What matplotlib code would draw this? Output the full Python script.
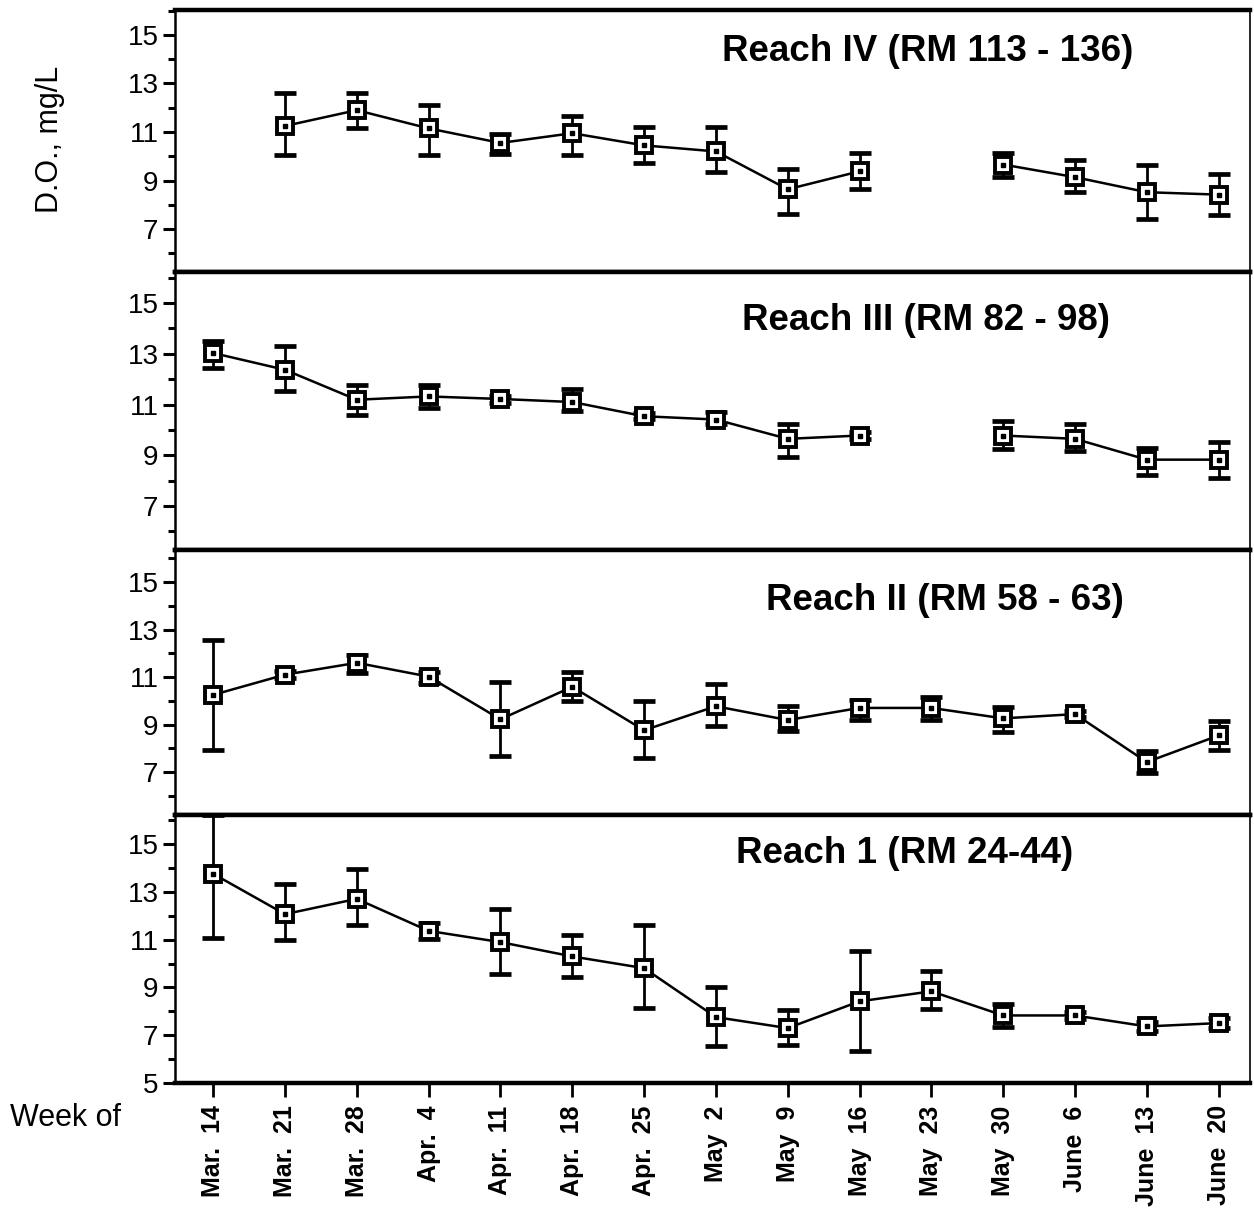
import numpy as np
import matplotlib
matplotlib.use("Agg")
import matplotlib.pyplot as plt
from matplotlib.ticker import FixedLocator

plt.rcParams['font.family'] = ['Liberation Sans', 'DejaVu Sans']

weeks = ['Mar.  14', 'Mar.  21', 'Mar.  28', 'Apr.  4', 'Apr.  11', 'Apr.  18',
         'Apr.  25', 'May  2', 'May  9', 'May  16', 'May  23', 'May  30',
         'June  6', 'June  13', 'June  20']
nan = np.nan

# Reach IV (RM 113 - 136)
r4_mean = [nan, 11.25, 11.9, 11.15, 10.55, 10.95, 10.45, 10.2, 8.64, 9.38, nan, 9.66, 9.14, 8.52, 8.42]
r4_lo   = [nan, 10.05, 11.15, 10.05, 10.1, 10.05, 9.74, 9.35, 7.63, 8.64, nan, 9.14, 8.52, 7.43, 7.56]
r4_hi   = [nan, 12.62, 12.62, 12.12, 10.9, 11.65, 11.2, 11.2, 9.49, 10.12, nan, 10.12, 9.84, 9.64, 9.28]

# Reach III (RM 82 - 98)
r3_mean = [13.03, 12.37, 11.19, 11.32, 11.22, 11.1, 10.54, 10.41, 9.65, 9.78, nan, 9.78, 9.65, 8.83, 8.83]
r3_lo   = [12.44, 11.52, 10.6, 10.87, 11.08, 10.73, 10.42, 10.25, 8.92, 9.66, nan, 9.25, 9.16, 8.24, 8.11]
r3_hi   = [13.49, 13.29, 11.78, 11.78, 11.35, 11.61, 10.66, 10.72, 10.25, 9.9, nan, 10.34, 10.24, 9.29, 9.53]

# Reach II (RM 58 - 63)
r2_mean = [10.25, 11.1, 11.6, 11.02, 9.22, 10.59, 8.76, 9.77, 9.19, 9.7, 9.7, 9.26, 9.44, 7.42, 8.54]
r2_lo   = [7.92, 10.95, 11.18, 10.75, 7.66, 9.99, 7.58, 8.92, 8.72, 9.19, 9.19, 8.68, 9.3, 6.95, 7.94]
r2_hi   = [12.58, 11.25, 11.95, 11.2, 10.8, 11.2, 10.0, 10.72, 9.8, 10.05, 10.15, 9.74, 9.58, 7.9, 9.15]

# Reach 1 (RM 24-44)
r1_mean = [13.76, 12.07, 12.71, 11.37, 10.9, 10.3, 9.81, 7.76, 7.3, 8.42, 8.84, 7.83, 7.83, 7.37, 7.51]
r1_lo   = [11.07, 10.97, 11.6, 11.05, 9.56, 9.44, 8.14, 6.56, 6.58, 6.33, 8.1, 7.34, 7.7, 7.17, 7.3]
r1_hi   = [16.2, 13.33, 13.95, 11.72, 12.29, 11.18, 11.6, 9.0, 8.07, 10.51, 9.67, 8.31, 7.96, 7.57, 7.72]

panels = [
    ('Reach IV (RM 113 - 136)', r4_mean, r4_lo, r4_hi),
    ('Reach III (RM 82 - 98)', r3_mean, r3_lo, r3_hi),
    ('Reach II (RM 58 - 63)', r2_mean, r2_lo, r2_hi),
    ('Reach 1 (RM 24-44)', r1_mean, r1_lo, r1_hi),
]

# panel layout (figure fractions) and per-panel y range, title spot
rects = [(0.1396, 0.7761, 0.8574, 0.2157),
         (0.1396, 0.5473, 0.8574, 0.2288),
         (0.1396, 0.3292, 0.8574, 0.2181),
         (0.1396, 0.1086, 0.8574, 0.2206)]
ylims = [(5.23, 16.03), (5.27, 16.22), (5.19, 16.35), (5.0, 16.22)]
title_pos = [(0.70, 0.84), (0.698, 0.827), (0.716, 0.81), (0.679, 0.858)]

fig = plt.figure(figsize=(12.54, 12.15), dpi=100)
x = np.arange(len(weeks))

for i, (title, mean, lo, hi) in enumerate(panels):
    ax = fig.add_axes(rects[i])
    mean = np.array(mean)
    yerr = [mean - np.array(lo), np.array(hi) - mean]
    ax.errorbar(x, mean, yerr=yerr, fmt='none', ecolor='black',
                elinewidth=2, capsize=8, capthick=3.4, zorder=2)
    ax.plot(x, mean, color='black', lw=1.8, marker='s', ms=12,
            mfc='white', mec='black', mew=2.8, zorder=3)
    ax.plot(x, mean, ls='none', marker='s', ms=2.5, color='black', zorder=4)

    ax.set_xlim(-0.53, 14.44)
    ax.set_ylim(*ylims[i])
    majors = [5, 7, 9, 11, 13, 15] if i == 3 else [7, 9, 11, 13, 15]
    ax.yaxis.set_major_locator(FixedLocator(majors))
    ax.yaxis.set_minor_locator(FixedLocator([6, 8, 10, 12, 14, 16]))
    ax.tick_params(axis='y', which='major', direction='out', length=9, width=2.2,
                   labelsize=20, pad=3)
    ax.tick_params(axis='y', which='minor', direction='out', length=5, width=2.2)

    ax.spines['top'].set_linewidth(3.2)
    ax.spines['bottom'].set_linewidth(3.2)
    ax.spines['left'].set_linewidth(1.8)
    ax.spines['right'].set_linewidth(1.2)

    if i == 3:
        ax.set_xticks(x)
        ax.set_xticklabels(weeks, rotation=90, fontsize=18, fontweight='bold',
                           va='top', ha='center')
        ax.tick_params(axis='x', direction='out', length=10, width=2, pad=6)
    else:
        ax.set_xticks([])

    ax.text(title_pos[i][0], title_pos[i][1], title, transform=ax.transAxes,
            ha='center', va='center', fontsize=26.5, fontweight='bold')

fig.text(0.04, 0.885, 'D.O., mg/L', rotation=90, ha='center', va='center', fontsize=22)
fig.text(0.008, 0.080, 'Week of', ha='left', va='center', fontsize=22)

fig.savefig('out.png', dpi=100)
